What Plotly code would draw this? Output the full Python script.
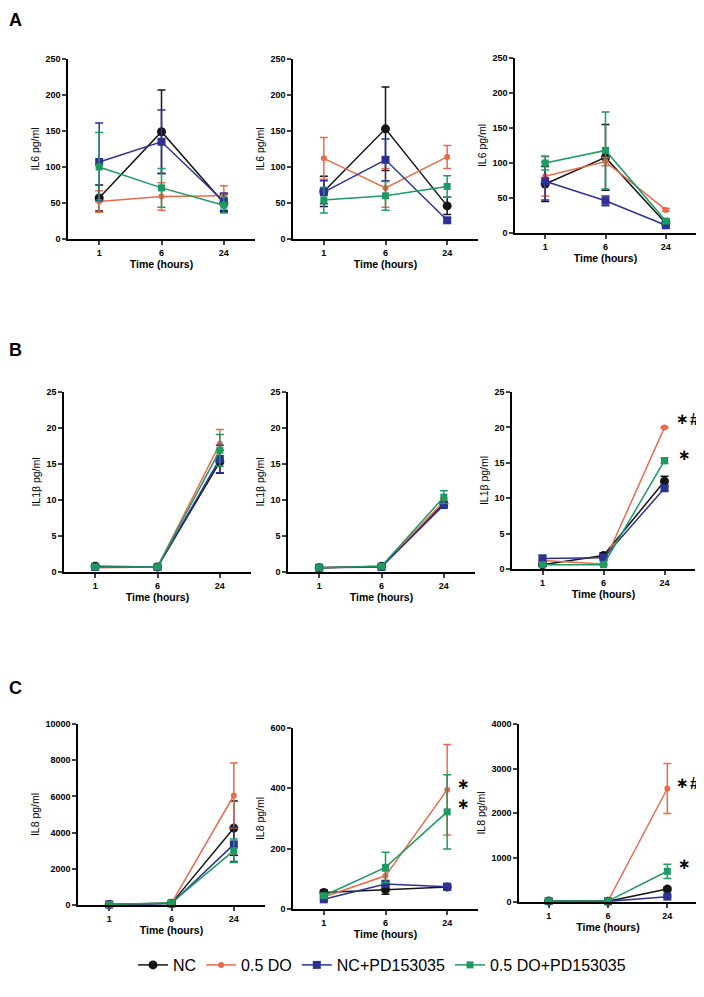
import plotly.graph_objects as go

# categories and series
times = ["1", "6", "24"]
groups = ["NC", "0.5 DO", "NC+PD153035", "0.5 DO+PD153035"]
colors = ["#151515", "#EC6A4C", "#2E3192", "#1C9A62"]
symbols = ["circle", "circle", "square", "square"]
sizes = [9, 6, 8, 7]

# row A - IL6 (mean per group, then sem)
a1_mean = [[57, 149, 50], [52, 59, 60], [107, 135, 52], [100, 71, 47]]
a1_err = [[18, 58, 12], [15, 19, 14], [54, 44, 12], [48, 27, 11]]
a2_mean = [[66, 153, 46], [112, 71, 114], [65, 110, 26], [54, 60, 73]]
a2_err = [[21, 58, 12], [29, 27, 16], [16, 29, 3], [18, 20, 15]]
a3_mean = [[70, 108, 14], [81, 102, 33], [74, 46, 11], [100, 118, 17]]
a3_err = [[25, 47, 3], [28, 6, 2], [27, 7, 2], [10, 55, 3]]

# row B - IL1b
b1_mean = [[0.8, 0.7, 15.3], [0.6, 0.7, 17.8], [0.7, 0.7, 15.7], [0.7, 0.7, 16.9]]
b1_err = [[0.1, 0.1, 1.6], [0.1, 0.1, 2.0], [0.1, 0.1, 1.9], [0.1, 0.1, 2.2]]
b2_mean = [[0.6, 0.8, 9.5], [0.6, 0.8, 9.8], [0.6, 0.7, 9.3], [0.6, 0.8, 10.4]]
b2_err = [[0.1, 0.1, 0.3], [0.1, 0.1, 0.4], [0.1, 0.1, 0.3], [0.1, 0.1, 0.9]]
b3_mean = [[0.6, 1.9, 12.4], [1.2, 0.7, 20.0], [1.5, 1.6, 11.4], [0.6, 0.6, 15.3]]
b3_err = [[0.2, 0.4, 0.7], [0.2, 0.1, 0.1], [0.4, 0.3, 0.4], [0.1, 0.1, 0.4]]

# row C - IL8
c1_mean = [[30, 90, 4250], [25, 110, 6050], [30, 80, 3350], [30, 120, 3000]]
c1_err = [[10, 20, 1500], [10, 20, 1800], [10, 20, 950], [10, 20, 650]]
c2_mean = [[55, 64, 73], [40, 110, 395], [32, 83, 74], [44, 138, 322]]
c2_err = [[8, 15, 8], [5, 15, 150], [5, 8, 10], [5, 50, 123]]
c3_mean = [[20, 15, 290], [20, 20, 2550], [20, 15, 120], [25, 20, 690]]
c3_err = [[5, 5, 40], [5, 5, 560], [5, 5, 20], [5, 5, 160]]

# the page body has an 8px margin; keep the figure small enough that the page never scrolls
OFF = 8
W, H = 704 - OFF, 970
FONT = "Liberation Sans, Arial, sans-serif"


def px(x):
    return (x - OFF) / W


def py(y):
    return 1 - (y - OFF) / H


# panel: data, y label, y max, y dtick, x px span, y px span (top, bottom) in window pixels
panels = [
    (a1_mean, a1_err, "IL6 pg/ml", 250, 50, (68, 255), (59, 239)),
    (a2_mean, a2_err, "IL6 pg/ml", 250, 50, (293, 478), (59, 239)),
    (a3_mean, a3_err, "IL6 pg/ml", 250, 50, (515, 696), (58, 233)),
    (b1_mean, b1_err, "IL1β pg/ml", 25, 5, (64, 251), (392, 572)),
    (b2_mean, b2_err, "IL1β pg/ml", 25, 5, (288, 475), (392, 572)),
    (b3_mean, b3_err, "IL1β pg/ml", 25, 5, (512, 695), (392, 569)),
    (c1_mean, c1_err, "IL8 pg/ml", 10000, 2000, (78, 265), (724, 905)),
    (c2_mean, c2_err, "IL8 pg/ml", 600, 200, (293, 478), (728, 909)),
    (c3_mean, c3_err, "IL8 pg/ml", 4000, 1000, (519, 697), (724, 902)),
]

fig = go.Figure()
layout = {}
for i, (means, errs, ylab, ymax, dt, xs, ys) in enumerate(panels):
    n = "" if i == 0 else str(i + 1)
    for g in range(4):
        fig.add_trace(go.Scatter(
            x=[0, 1, 2], y=means[g], name=groups[g],
            mode="lines+markers", xaxis="x" + n, yaxis="y" + n,
            line=dict(color=colors[g], width=1.5),
            marker=dict(color=colors[g], symbol=symbols[g], size=sizes[g]),
            error_y=dict(type="data", array=errs[g], color=colors[g], thickness=1.5, width=4),
            showlegend=(i == 0), legendgroup=groups[g], cliponaxis=False,
        ))
    layout["xaxis" + n] = dict(
        domain=[px(xs[0]), px(xs[1])], anchor="y" + n, range=[-0.5, 2.5], automargin=False,
        tickvals=[0, 1, 2], ticktext=times, showline=True, linecolor="black", linewidth=1.5,
        ticks="outside", ticklen=4, tickwidth=1.5, showgrid=False, zeroline=False,
        tickfont=dict(size=9, family=FONT, color="black", weight="bold"),
        title=dict(text="Time (hours)", font=dict(size=10.5, family=FONT, color="black", weight="bold"), standoff=4),
    )
    layout["yaxis" + n] = dict(
        domain=[py(ys[1]), py(ys[0])], anchor="x" + n, range=[0, ymax], automargin=False,
        dtick=dt, tickformat="d", showline=True, linecolor="black", linewidth=1.5,
        ticks="outside", ticklen=4, tickwidth=1.5, showgrid=False, zeroline=False,
        tickfont=dict(size=9, family=FONT, color="black", weight="bold"),
        title=dict(text=ylab, font=dict(size=10.5, family=FONT, color="black"), standoff=4),
    )

fig.update_layout(**layout)

annots = [("A", 15, 20), ("B", 15, 350), ("C", 15, 688)]
for txt, x, y in annots:
    fig.add_annotation(text="<b>" + txt + "</b>", x=px(x), y=py(y), xref="paper", yref="paper",
                       xanchor="center", yanchor="middle", showarrow=False,
                       font=dict(size=18, family=FONT, color="black"))

# significance marks
stars = [("∗", 682, 419), ("∗", 684, 455), ("∗<br>∗", 463, 794), ("∗", 682, 783), ("∗", 684, 864)]
for txt, x, y in stars:
    fig.add_annotation(text="<b>" + txt + "</b>", x=px(x), y=py(y), xref="paper", yref="paper",
                       xanchor="center", yanchor="middle", showarrow=False,
                       font=dict(size=15, family="DejaVu Sans", color="black"))
hashes = [(694, 419), (694, 783)]
for x, y in hashes:
    fig.add_annotation(text="<b>#</b>", x=px(x), y=py(y), xref="paper", yref="paper",
                       xanchor="center", yanchor="middle", showarrow=False,
                       font=dict(size=16, family=FONT, color="black"))

fig.update_layout(
    width=W, height=H, plot_bgcolor="white", paper_bgcolor="white",
    margin=dict(l=0, r=0, t=0, b=0, autoexpand=False),
    legend=dict(orientation="h", x=px(382), y=py(965), xanchor="center", yanchor="middle",
                font=dict(size=16, family=FONT, color="black"), itemwidth=30, tracegroupgap=0),
)

fig.write_html("out.html")
